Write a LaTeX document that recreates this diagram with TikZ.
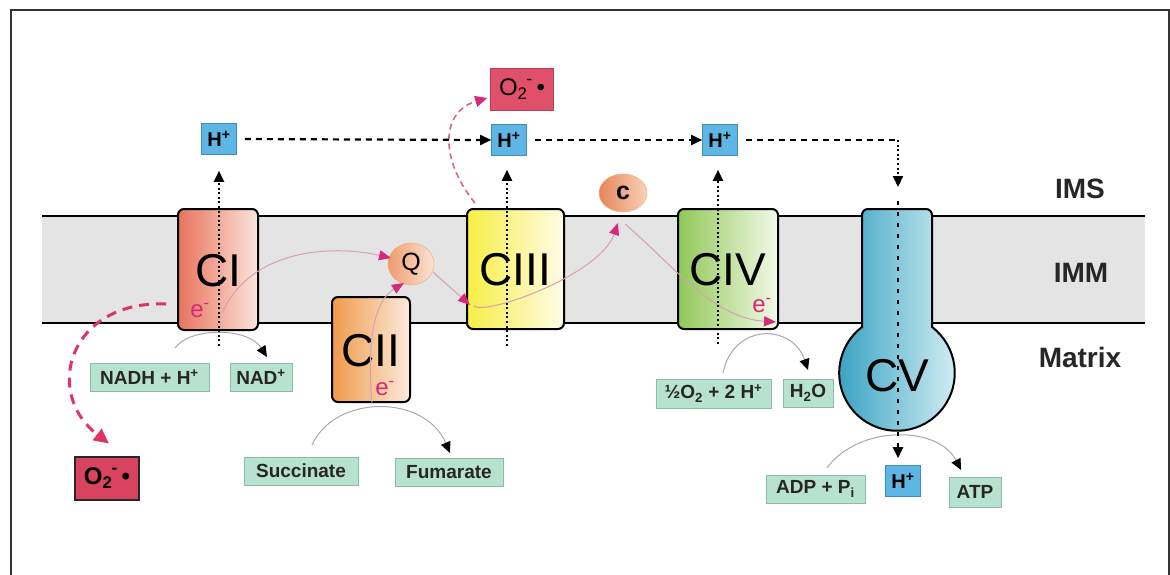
\documentclass[tikz,border=0pt]{standalone}
\usepackage{fontspec}
\setmainfont{Liberation Sans}
\usetikzlibrary{arrows.meta,calc,shapes.geometric}

\definecolor{framegray}{HTML}{333333}
\definecolor{memgray}{HTML}{E4E4E4}
\definecolor{hblue}{HTML}{5DB6E4}
\definecolor{hblueline}{HTML}{3C8DBE}
\definecolor{mint}{HTML}{B8E2D0}
\definecolor{mintline}{HTML}{8ABDA5}
\definecolor{rosred}{HTML}{E0506A}
\definecolor{rosdark}{HTML}{D9435F}
\definecolor{epink}{HTML}{D8287A}
\definecolor{elight}{HTML}{D6A2B4}
\definecolor{roslink}{HTML}{E03462}
\definecolor{roslight}{HTML}{D26A88}
\definecolor{arcgray}{HTML}{A8A8A8}
\definecolor{ciL}{HTML}{E8735C}
\definecolor{ciR}{HTML}{FBE5DC}
\definecolor{ciiL}{HTML}{EE9A4A}
\definecolor{ciiR}{HTML}{FCEBDD}
\definecolor{ciiiL}{HTML}{F8EE45}
\definecolor{ciiiR}{HTML}{FFFCE8}
\definecolor{civL}{HTML}{90C858}
\definecolor{civR}{HTML}{F3F9E8}
\definecolor{cvL}{HTML}{38A2C2}
\definecolor{cvR}{HTML}{DAF1F6}
\definecolor{qL}{HTML}{EF9C6E}
\definecolor{qR}{HTML}{FCE3D6}
\definecolor{cL}{HTML}{E8855A}
\definecolor{cR}{HTML}{F9D2B8}

\newcommand{\superox}{O\textsubscript{2}\kern-1pt\raisebox{2pt}{\textsuperscript{-}}\,•}

\begin{document}
\begin{tikzpicture}[x=1pt,y=-1pt,
  complex/.style={draw=black, line width=2pt, rounded corners=6pt, inner sep=0pt,
    text height=33pt, text depth=0pt, font=\fontsize{46}{46}\selectfont},
  hion/.style={draw=hblueline, line width=0.6pt, fill=hblue, inner sep=0pt,
    minimum width=35pt, minimum height=31pt, font=\fontsize{20}{20}\selectfont\bfseries},
  mol/.style={draw=mintline, line width=0.8pt, fill=mint, inner sep=0pt,
    minimum height=28pt, text=black!85, font=\fontsize{19}{20}\selectfont\bfseries},
  carrier/.style={ellipse, draw=orange!50!brown!60, line width=0.5pt, inner sep=0pt},
  layer/.style={font=\fontsize{28}{28}\selectfont\bfseries, text=black!85},
  elabel/.style={text=epink, font=\fontsize{24}{24}\selectfont},
  blacktip/.style={-{Triangle[length=11pt,width=10pt,color=black]}},
  hdash/.style={line width=2.2pt, dash pattern=on 6pt off 5pt, blacktip},
  vdots/.style={line width=2pt, dash pattern=on 2pt off 2.6pt},
  cvdots/.style={line width=2.2pt, dash pattern=on 4pt off 7pt},
  arcflow/.style={draw=arcgray, line width=1pt, blacktip},
  eflow/.style={draw=elight, line width=1pt,
    -{Triangle[length=12pt,width=10pt,color=epink]}},
]
\useasboundingbox (0,0) rectangle (1170,574);
\clip (0,0) rectangle (1170,574);

% outer frame
\draw[line width=2pt, draw=framegray] (11,10) rectangle (1169,600);

% inner mitochondrial membrane
\fill[memgray] (42,216) rectangle (1145,323);
\draw[line width=2pt] (42,216) -- (1145,216);
\draw[line width=2pt] (42,323) -- (1145,323);

% layer names
\node[layer] (ims) at (1080,189) {IMS};
\node[layer] (imm) at (1081,273) {IMM};
\node[layer] (matrix) at (1080,357) {Matrix};

% respiratory complexes
\node[complex, left color=ciL, right color=ciR, minimum width=80pt, minimum height=121pt]
  (CI) at (218,269.5) {CI};
\node[complex, left color=ciiL, right color=ciiR, minimum width=78pt, minimum height=105pt]
  (CII) at (371,349.5) {CII};
\node[complex, left color=ciiiL, right color=ciiiR, minimum width=97pt, minimum height=120pt]
  (CIII) at (515.5,269) {CIII};
\node[complex, left color=civL, right color=civR, minimum width=100pt, minimum height=120pt]
  (CIV) at (728,269) {CIV};

% ATP synthase: stem through the membrane with a round head in the matrix
\path[draw=black, line width=2pt, left color=cvL, right color=cvR]
  (862,327) [rounded corners=6pt] -- (862,209) -- (932,209) -- (932,222)
  [sharp corners] -- (932,327)
  arc[start angle=52.7, end angle=-232.7, radius=57.8pt] -- cycle;
\node[font=\fontsize{46}{46}\selectfont] (CV) at (897,376) {CV};

% mobile carriers
\node[carrier, left color=qL, right color=qR, minimum width=46pt, minimum height=42pt,
  font=\fontsize{25}{25}\selectfont] (Q) at (411,264) {Q};
\node[carrier, left color=cL, right color=cR, minimum width=48pt, minimum height=38pt,
  font=\fontsize{25}{25}\selectfont\bfseries] (c) at (623,193) {c};

% electrons
\node[elabel] (eI) at (200,311) {e\textsuperscript{-}};
\node[elabel] (eII) at (385,389) {e\textsuperscript{-}};
\node[elabel] (eIV) at (762,306) {e\textsuperscript{-}};

% protons
\node[hion] (hI) at (219,139) {H\textsuperscript{+}};
\node[hion] (hIII) at (509,140) {H\textsuperscript{+}};
\node[hion] (hIV) at (720,140) {H\textsuperscript{+}};
\node[hion] (hV) at (903,481) {H\textsuperscript{+}};

% superoxide
\node[draw=rosred!80!black, line width=0.6pt, fill=rosred, inner sep=0pt,
  minimum width=63pt, minimum height=42pt, font=\fontsize{24}{24}\selectfont]
  (oTop) at (522,89) {\superox};
\node[draw=black!85, line width=2pt, fill=rosdark, inner sep=0pt,
  minimum width=64pt, minimum height=43pt, font=\fontsize{24}{24}\selectfont\bfseries]
  (oBot) at (107,478) {\superox};

% substrates and products
\node[mol, minimum width=119pt] (nadh) at (149.5,377) {NADH + H\textsuperscript{+}};
\node[mol, minimum width=62pt] (nad) at (261,377) {NAD\textsuperscript{+}};
\node[mol, minimum width=114pt] (succ) at (301,471) {Succinate};
\node[mol, minimum width=108pt] (fum) at (449,472.5) {Fumarate};
\node[mol, minimum width=115pt, minimum height=29pt] (half) at (713.5,393.5)
  {½O\textsubscript{2} + 2 H\textsuperscript{+}};
\node[mol, minimum width=50pt] (water) at (808,393) {H\textsubscript{2}O};
\node[mol, minimum width=99pt] (adp) at (815.5,489) {ADP + P\textsubscript{i}};
\node[mol, minimum width=52pt, minimum height=30pt] (atp) at (975,492) {ATP};

% substrate conversions
\coordinate (a1s) at (175,348); \coordinate (a1e) at (267,357);
\coordinate (a2s) at (312,445); \coordinate (a2e) at (450,453);
\coordinate (a3s) at (723,373); \coordinate (a3e) at (808,370);
\coordinate (a4s) at (827,468); \coordinate (a4e) at (961,470);
\draw[arcflow] (a1s) .. controls (190,327) and (248,327) .. (a1e);
\draw[arcflow] (a2s) .. controls (335,394) and (425,394) .. (a2e);
\draw[arcflow] (a3s) .. controls (733,323) and (792,323) .. (a3e);
\draw[arcflow] (a4s) .. controls (858,425) and (938,425) .. (a4e);

% electron transport
\coordinate (e1s) at (222,313); \coordinate (e1e) at (391,258);
\coordinate (e2s) at (372,404); \coordinate (e2e) at (404,283);
\coordinate (e3s) at (433,272); \coordinate (e3e) at (470,305);
\coordinate (e4s) at (474,306); \coordinate (e4e) at (618,223);
\coordinate (e5s) at (625,224); \coordinate (e5e) at (776,322);
\draw[eflow] (e1s) .. controls (250,250) and (330,244) .. (e1e);
\draw[eflow] (e2s) .. controls (366,335) and (376,300) .. (e2e);
\draw[eflow] (e3s) -- (e3e);
\draw[eflow] (e4s) .. controls (485,316) and (600,275) .. (e4e);
\draw[eflow] (e5s) .. controls (670,262) and (712,318) .. (e5e);

% superoxide leaks
\coordinate (r1s) at (166,304);
\draw[draw=roslink, line width=3pt, dash pattern=on 10pt off 7pt,
  -{Triangle[length=15pt,width=14pt,color=roslink]}]
  (r1s) .. controls (70,300) and (42,392) .. ($(oBot.north)+(2,-12)$);
\coordinate (r2s) at (475,203);
\draw[draw=roslight, line width=1.6pt, dash pattern=on 6pt off 4pt,
  -{Triangle[length=12pt,width=11pt,color=epink]}]
  (r2s) .. controls (440,160) and (440,112) .. ($(oTop.west)+(-3,9)$);

% proton pumping
\draw[vdots, blacktip] (219,346) -- ($(hI.south)+(0,16)$);
\draw[vdots, blacktip] (507,346) -- ($(hIII.south)+(-2,14)$);
\draw[vdots, blacktip] (718,344) -- ($(hIV.south)+(-2,14)$);

% proton flow in the intermembrane space and back through CV
\coordinate (cvin) at (898,140);
\coordinate (cvarrow) at (898,187);
\coordinate (cvtop) at (898,201);
\draw[hdash, shorten <=8pt] (hI.east) -- (hIII.west);
\draw[hdash, shorten <=8pt] (hIII.east) -- (hIV.west);
\draw[line width=2.2pt, dash pattern=on 6pt off 5pt, shorten <=8pt] (hIV.east) -- (cvin);
\draw[vdots, blacktip] (cvin) -- (cvarrow);
\draw[cvdots, blacktip, shorten >=7pt] (cvtop) -- (cvtop |- hV.north);
\end{tikzpicture}
\end{document}
